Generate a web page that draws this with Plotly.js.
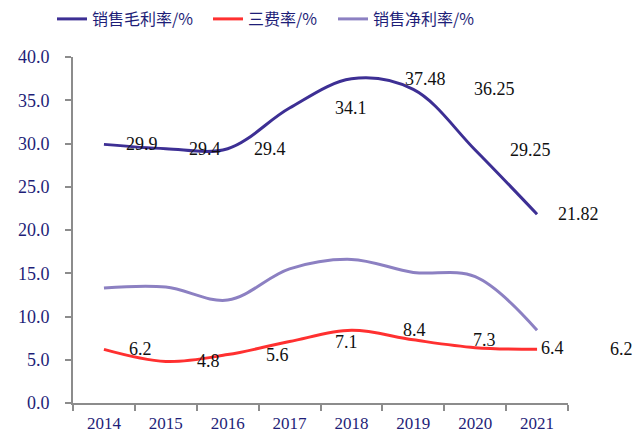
<!DOCTYPE html>
<html><head><meta charset="utf-8">
<script src="https://cdn.plot.ly/plotly-3.0.1.min.js"></script>
<style>html,body{margin:0;padding:0;background:#fff}#c{width:640px;height:436px}</style>
</head><body><div id="c"></div>
<script>
const years = ['2014','2015','2016','2017','2018','2019','2020','2021'];
const grossMargin = [29.9, 29.4, 29.4, 34.1, 37.48, 36.25, 29.25, 21.82];
const expenseRate = [6.2, 4.8, 5.6, 7.1, 8.4, 7.3, 6.4, 6.2];
const netMargin = [13.3, 13.4, 11.9, 15.5, 16.6, 15.1, 14.6, 8.4];
const grossLabels = ['29.9','29.4','29.4','34.1','37.48','36.25','29.25','21.82'];
const expenseLabels = ['6.2','4.8','5.6','7.1','8.4','7.3','6.4','6.2'];
const seriesNames = ['销售毛利率/%','三费率/%','销售净利率/%'];
const yTicks = [0,5,10,15,20,25,30,35,40];

// label placement offsets (px, to the right of each point), styling only
const grossLabelShift = [38, 39, 42, 61, 74, 81, 55, 41];
const expenseLabelShift = [37, 43, 50, 57, 63, 71, 77, 84];

const navy = '#1e1e78';
const legFont = {family: 'Noto Sans CJK SC', size: 16, color: navy};
const mk = (y, name, color, leg) => ({
  x: years, y: y, name: name, type: 'scatter', mode: 'lines', legend: leg,
  line: {color: color, width: 3, shape: 'spline', smoothing: 1},
  hoverinfo: 'skip'
});
const data = [
  mk(grossMargin, seriesNames[0], '#3d2f94', 'legend'),
  mk(expenseRate, seriesNames[1], '#ff3030', 'legend2'),
  mk(netMargin, seriesNames[2], '#8c80c2', 'legend3')
];
const annotations = [];
const addLabels = (vals, labels, shifts) => vals.forEach((v, i) => annotations.push({
  xref: 'x', yref: 'y', x: i, y: v, text: labels[i], showarrow: false, xanchor: 'center', yanchor: 'middle',
  xshift: shifts[i], font: {family: 'Liberation Serif', size: 18, color: '#111'}
}));
addLabels(grossMargin, grossLabels, grossLabelShift);
addLabels(expenseRate, expenseLabels, expenseLabelShift);

const legBase = (x) => ({orientation: 'h', x: x, xref: 'container', xanchor: 'left', y: 1 - 2/436, yref: 'container', yanchor: 'top',
  font: legFont, itemwidth: 30, bgcolor: 'rgba(0,0,0,0)'});
const layout = {
  width: 640, height: 436,
  margin: {l: 73, r: 72, t: 57, b: 33},
  paper_bgcolor: '#fff', plot_bgcolor: '#fff',
  showlegend: true,
  legend: legBase(52/640),
  legend2: legBase(208/640),
  legend3: legBase(333/640),
  xaxis: {type: 'category', showgrid: false, zeroline: false, showline: true, linecolor: '#8c8c8c', linewidth: 2,
    ticks: 'outside', tickson: 'boundaries', ticklen: 6, tickcolor: '#8c8c8c', tickwidth: 2, ticklabelstandoff: 4,
    tickfont: {family: 'Liberation Serif', size: 17, color: navy}, range: [-0.5, 7.5]},
  yaxis: {range: [0, 40], tickvals: yTicks, tickformat: '.1f', showgrid: false, zeroline: false,
    showline: true, linecolor: '#8c8c8c', linewidth: 2, ticks: 'outside', ticklen: 6, tickcolor: '#8c8c8c', tickwidth: 2,
    ticklabelstandoff: 12,
    tickfont: {family: 'Liberation Serif', size: 18, color: navy}},
  annotations: annotations
};
Plotly.newPlot('c', data, layout, {displayModeBar: false, staticPlot: true});
</script></body></html>
